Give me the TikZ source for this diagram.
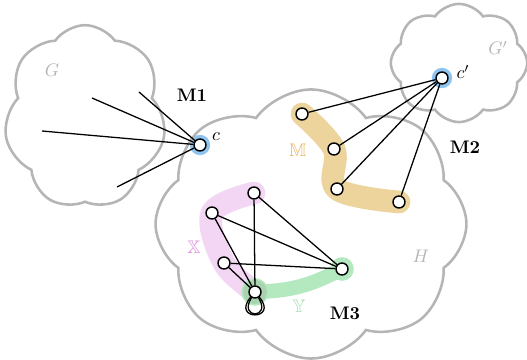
\documentclass[tikz,border=0pt]{standalone}
\usepackage{amsmath}
\usepackage{amssymb}
\usepackage{tikz}
\usetikzlibrary{shapes.symbols,%
                backgrounds}

\definecolor{cloudgray}{HTML}{B5B5B5}
\definecolor{haloblue}{HTML}{8FC3F0}
\definecolor{mtan}{HTML}{EDD39C}
\definecolor{mtext}{HTML}{E6B862}
\definecolor{xpink}{HTML}{F3D6F3}
\definecolor{xtext}{HTML}{E08FE0}
\definecolor{ygreen}{HTML}{B4E8BF}
\definecolor{ytext}{HTML}{A2DCAE}
\definecolor{xymix}{HTML}{A9D2B0}

\begin{document}
\begin{tikzpicture}[x=0.55pt,y=0.55pt]
  \tikzstyle{CloudStyle}=[cloud,draw=cloudgray,line width=1.4pt,cloud ignores aspect,cloud puff arc=110,inner sep=0pt]
  \tikzstyle{VertexStyle}=[circle,draw,fill=white,line width=0.8pt,minimum size=6.6pt,inner sep=0pt]
  \tikzstyle{EdgeStyle}=[line width=0.7pt]
  \tikzstyle{NameStyle}=[text=cloudgray]
  \useasboundingbox (0,0) rectangle (527,360);
  % the three clouds
  \node[CloudStyle,cloud puffs=7,minimum width=89pt,minimum height=101pt] (G) at (85,243) {};
  \node[CloudStyle,cloud puffs=8,minimum width=171pt,minimum height=148pt] (H) at (311,136) {};
  \node[CloudStyle,cloud puffs=8,minimum width=75pt,minimum height=65pt] (Gp) at (459,297) {};
  % vertices
  \node[VertexStyle] (c) at (200,215) {};
  \node[VertexStyle] (cp) at (442,282) {};
  \node[VertexStyle] (m1) at (302,246) {};
  \node[VertexStyle] (m2) at (334,211) {};
  \node[VertexStyle] (m3) at (337,171) {};
  \node[VertexStyle] (m4) at (399,158) {};
  \node[VertexStyle] (x1) at (254,167) {};
  \node[VertexStyle] (x2) at (212,147) {};
  \node[VertexStyle] (x3) at (224,97) {};
  \node[VertexStyle] (y1) at (255,68) {};
  \node[VertexStyle] (y2) at (342,91) {};
  \coordinate (g1) at (139,268);
  \coordinate (g2) at (92,262);
  \coordinate (g3) at (42,229);
  \coordinate (g4) at (117,173);
  % highlighted parts
  \begin{scope}[on background layer]
    \fill[haloblue] (c) circle (5.6pt);
    \fill[haloblue] (cp) circle (5.6pt);
    \draw[mtan,line width=12.5pt,line cap=round,line join=round]
      plot[smooth,tension=0.6] coordinates {(m1.center) (m2.center) (m3.center) (m4.center)};
    \draw[xpink,line width=12.5pt,line cap=round,line join=round]
      plot[smooth,tension=0.6] coordinates {(x1.center) (x2.center) (x3.center) (y1.center)};
    \fill[ygreen] (y2) circle (6.5pt);
    \fill[ygreen] (y1) circle (7.5pt);
    \draw[ygreen,line width=8pt] (y1) to[bend right=12] (y2);
    \fill[xymix] (y1) circle (6.6pt);
  \end{scope}
  % edges
  \draw[EdgeStyle] (c) -- (g1);
  \draw[EdgeStyle] (c) -- (g2);
  \draw[EdgeStyle] (c) -- (g3);
  \draw[EdgeStyle] (c) -- (g4);
  \draw[EdgeStyle] (cp) -- (m1);
  \draw[EdgeStyle] (cp) -- (m2);
  \draw[EdgeStyle] (cp) -- (m3);
  \draw[EdgeStyle] (cp) -- (m4);
  \draw[EdgeStyle] (x1) -- (y1);
  \draw[EdgeStyle] (x1) -- (y2);
  \draw[EdgeStyle] (x2) -- (y2);
  \draw[EdgeStyle] (x2) -- (y1);
  \draw[EdgeStyle] (x3) -- (y2);
  \draw[EdgeStyle] (x3) -- (y1);
  \draw[EdgeStyle] (y1.-130) .. controls +(-130:17pt) and +(-50:17pt) .. (y1.-50);
  \draw[EdgeStyle] (y1.-122) .. controls +(-122:14pt) and +(-58:14pt) .. (y1.-58);
  % labels
  \node[NameStyle] (Glab) at (52,290) {$G$};
  \node[NameStyle] (Gplab) at (498,312) {$G'$};
  \node[NameStyle] (Hlab) at (421,104) {$H$};
  \node (clab) at (216,223) {$c$};
  \node (cplab) at (463,288) {$c'$};
  \node (M1lab) at (192,265) {\textbf{M1}};
  \node (M2lab) at (465,213) {\textbf{M2}};
  \node (M3lab) at (345,47) {\textbf{M3}};
  \node[text=mtext] (Mlab) at (298,210) {$\mathbb{M}$};
  \node[text=xtext] (Xlab) at (194,113) {$\mathbb{X}$};
  \node[text=ytext] (Ylab) at (299,54) {$\mathbb{Y}$};
\end{tikzpicture}
\end{document}
